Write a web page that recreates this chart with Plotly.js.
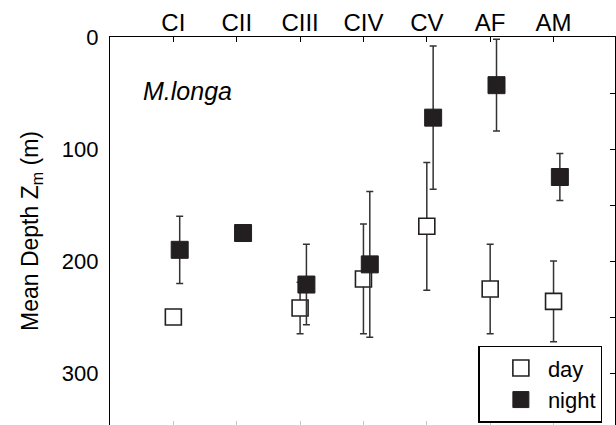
<!DOCTYPE html>
<html>
<head>
<meta charset="utf-8">
<script src="https://cdn.plot.ly/plotly-3.0.1.min.js"></script>
<style>html,body{margin:0;padding:0;background:#fff;}#chart{width:616px;height:425px;}</style>
</head>
<body>
<div id="chart"></div>
<script>
const categories = ["CI", "CII", "CIII", "CIV", "CV", "AF", "AM"];
const dayDepth   = [250, null, 242, 216, 169, 225, 236];
const daySD      = [0,   0,    23,  49,  57,  40,  36];
const nightDepth = [190, 175, 221, 203, 72, 43, 125];
const nightSD    = [30,  0,   36,  65,  64, 41, 21];
const yTicks = [0, 100, 200, 300];

const FONT = "Liberation Sans, Arial, sans-serif";
const idx = categories.map((c, i) => i + 1);
const nightShift = 0.1;

const dayTrace = {
  x: idx, y: dayDepth, name: "day", type: "scatter", mode: "markers",
  marker: {symbol: "square", size: 16, color: "#ffffff", line: {color: "#231f20", width: 1.6}},
  error_y: {type: "data", array: daySD, visible: true, color: "#333333", thickness: 1.5, width: 3.5},
  xaxis: "x", yaxis: "y"
};
const nightTrace = {
  x: idx.map(v => v + nightShift), y: nightDepth, name: "night", type: "scatter", mode: "markers",
  marker: {symbol: "square", size: 17, color: "#231f20", line: {color: "#231f20", width: 1}},
  error_y: {type: "data", array: nightSD, visible: true, color: "#333333", thickness: 1.5, width: 3.5},
  xaxis: "x", yaxis: "y"
};
const helper = {x: [null], y: [null], xaxis: "x2", yaxis: "y2", showlegend: false, hoverinfo: "skip", type: "scatter", mode: "markers"};

const yRange = [346.4, 0];
const xRange = [0, 7.97];

const layout = {
  width: 616, height: 425,
  margin: {l: 110, r: 1, t: 37, b: 0},
  paper_bgcolor: "#ffffff", plot_bgcolor: "#ffffff",
  font: {family: FONT, color: "#000000"},
  showlegend: true,
  legend: {x: 0.975, y: 0.006, xanchor: "right", yanchor: "bottom",
           bordercolor: "#000000", borderwidth: 1.5, bgcolor: "#ffffff",
           font: {size: 22, family: FONT}, tracegroupgap: 0, itemwidth: 44, indentation: 14},
  xaxis: {
    range: xRange, side: "top", tickmode: "array", tickvals: idx, ticktext: categories,
    ticks: "inside", ticklen: 5, tickwidth: 1, tickcolor: "#000",
    showline: true, linecolor: "#000", linewidth: 1.2, showgrid: false, zeroline: false,
    tickfont: {size: 24, family: FONT}, ticklabelstandoff: -5
  },
  yaxis: {
    range: yRange, tickmode: "array", tickvals: yTicks, ticks: "", showline: true,
    linecolor: "#000", linewidth: 1.2, showgrid: false, zeroline: false,
    tickfont: {size: 22, family: FONT}, ticklabelstandoff: 6,
    title: {text: "Mean Depth Z<sub>m</sub> (m)", font: {size: 23, family: FONT}, standoff: 16}
  },
  xaxis2: {
    range: xRange, overlaying: "x", side: "bottom", anchor: "y2", tickmode: "array", tickvals: idx,
    ticks: "inside", ticklen: 4, tickcolor: "#c8c8c8", showticklabels: false, showline: false,
    showgrid: false, zeroline: false
  },
  yaxis2: {
    range: yRange, overlaying: "y", side: "right", anchor: "x2", dtick: 50, tick0: 0,
    ticks: "inside", ticklen: 5, tickcolor: "#000", showticklabels: false, showline: true,
    linecolor: "#000", linewidth: 1.2, showgrid: false, zeroline: false
  },
  annotations: [{
    text: "<i>M.longa</i>", xref: "paper", yref: "paper", x: 0.062, y: 0.86,
    xanchor: "left", yanchor: "middle", showarrow: false, font: {size: 25, family: FONT}
  }]
};

Plotly.newPlot("chart", [helper, dayTrace, nightTrace], layout, {displayModeBar: false, staticPlot: true});
</script>
</body>
</html>
